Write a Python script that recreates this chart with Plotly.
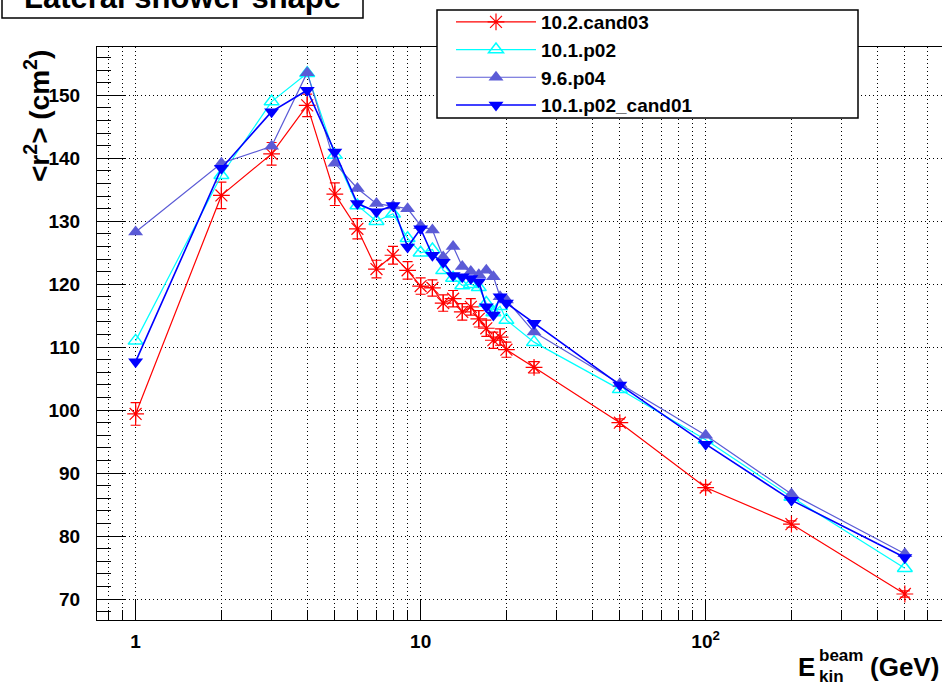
import math
import plotly.graph_objects as go

# ---------------- data ----------------
energy = [1, 2, 3, 4, 5, 6, 7, 8, 9, 10, 11, 12, 13, 14, 15, 16, 17, 18, 19, 20, 25, 50, 100, 200, 500]

r2_cand03 = [99.4, 134.1, 140.7, 148.4, 134.3, 128.8, 122.4, 124.6, 122.2, 119.7, 119.4, 117.0, 117.7,
             115.6, 116.4, 114.5, 113.0, 111.1, 111.6, 109.6, 106.8, 98.0, 87.7, 81.9, 70.8]
r2_cand03_err = [1.8, 2.1, 1.8, 1.8, 1.8, 1.6, 1.4, 1.4, 1.4, 1.3, 1.3, 1.3, 1.3,
                 1.3, 1.3, 1.3, 1.3, 1.3, 1.3, 1.2, 0.9, 0.6, 0.5, 0.5, 0.5]
r2_p02 = [111.0, 137.3, 149.0, 153.5, 140.5, 132.5, 130.0, 131.2, 127.3, 125.0, 125.5, 122.2, 121.0,
          119.8, 120.0, 119.5, 117.0, 115.5, 116.5, 114.3, 110.8, 103.3, 95.3, 86.2, 74.9]
r2_p04 = [128.3, 139.2, 141.9, 153.6, 139.2, 135.2, 132.8, 132.4, 132.0, 129.3, 128.6, 124.3, 126.0,
          122.8, 122.0, 121.5, 122.2, 121.2, 118.0, 117.5, 112.4, 104.2, 96.0, 86.7, 77.2]
r2_cand01 = [107.7, 138.4, 147.4, 150.8, 141.0, 132.8, 131.5, 132.5, 125.9, 128.8, 124.6, 123.5, 121.4,
             121.2, 120.9, 120.4, 116.4, 115.1, 118.0, 117.0, 113.8, 104.0, 94.6, 85.7, 76.6]

series_names = ["10.2.cand03", "10.1.p02", "9.6.p04", "10.1.p02_cand01"]

x_major = [1, 10, 100]
x_major_text = ["1", "10", "10<sup>2</sup>"]
x_minor = [0.8, 0.9, 2, 3, 4, 5, 6, 7, 8, 9, 20, 30, 40, 50, 60, 70, 80, 90, 200, 300, 400, 500, 600]
y_major = [70, 80, 90, 100, 110, 120, 130, 140, 150]
y_major_text = ["70", "80", "90", "100", "110", "120", "130", "140", "150"]

# ---------------- layout geometry ----------------
W, H = 942, 686
L, R, T, B = 97, 0, 47, 66


def px(x):
    return (x - L) / (W - L - R)


def py(y):
    return (H - B - y) / (H - B - T)


FONT = "Liberation Sans, Arial, Helvetica, sans-serif"
GRID_DASH = "1px,3px"

fig = go.Figure()

fig.add_trace(go.Scatter(
    x=energy, y=r2_cand03, name=series_names[0], mode="lines+markers",
    line=dict(color="#FF0000", width=1.2),
    marker=dict(symbol="asterisk-open", size=14, color="#FF0000",
                line=dict(color="#FF0000", width=1.2)),
    error_y=dict(type="data", array=r2_cand03_err, color="#FF0000", thickness=1.2, width=5),
))
fig.add_trace(go.Scatter(
    x=energy, y=r2_p02, name=series_names[1], mode="lines+markers",
    line=dict(color="#00FFFF", width=1.2),
    marker=dict(symbol="triangle-up-open", size=13, color="#00FFFF",
                line=dict(color="#00FFFF", width=1.5)),
))
fig.add_trace(go.Scatter(
    x=energy, y=r2_p04, name=series_names[2], mode="lines+markers",
    line=dict(color="#5B5BD6", width=1.2),
    marker=dict(symbol="triangle-up", size=13, color="#5B5BD6",
                line=dict(width=0)),
))
fig.add_trace(go.Scatter(
    x=energy, y=r2_cand01, name=series_names[3], mode="lines+markers",
    line=dict(color="#0000FF", width=1.6),
    marker=dict(symbol="triangle-down", size=13, color="#0000FF",
                line=dict(width=0)),
))

fig.update_layout(
    width=W, height=H, autosize=False,
    margin=dict(l=L, r=R, t=T, b=B, pad=0),
    paper_bgcolor="white", plot_bgcolor="white",
    font=dict(family=FONT, color="black"),
    showlegend=True,
    legend=dict(
        x=px(451), y=py(3), xanchor="left", yanchor="top",
        bgcolor="rgba(0,0,0,0)", borderwidth=0,
        font=dict(family=FONT, size=19, color="black", weight="bold"),
        itemwidth=80,
    ),
    xaxis=dict(
        type="log",
        range=[math.log10(0.732), math.log10(675)],
        showline=True, linecolor="black", linewidth=1.2, mirror=True,
        ticks="inside", ticklen=20, tickwidth=1.2, tickcolor="black",
        tickmode="array", tickvals=x_major, ticktext=x_major_text,
        tickfont=dict(family=FONT, size=19, color="black", weight="bold"),
        ticklabelstandoff=4,
        showgrid=True, gridcolor="black", gridwidth=1, griddash=GRID_DASH,
        zeroline=False,
        minor=dict(tickmode="array", tickvals=x_minor, ticks="inside", ticklen=10,
                   tickwidth=1, tickcolor="black", showgrid=True, gridcolor="black",
                   gridwidth=1, griddash=GRID_DASH),
    ),
    yaxis=dict(
        range=[66.67, 157.67],
        showline=True, linecolor="black", linewidth=1.2, mirror=False,
        ticks="inside", ticklen=28, tickwidth=1.2, tickcolor="black",
        tickmode="array", tickvals=y_major, ticktext=y_major_text,
        tickfont=dict(family=FONT, size=19, color="black", weight="bold"),
        ticklabelstandoff=12,
        showgrid=True, gridcolor="black", gridwidth=1, griddash=GRID_DASH,
        zeroline=False,
        minor=dict(dtick=2, ticks="inside", ticklen=14, tickwidth=1, tickcolor="black",
                   showgrid=False),
    ),
    shapes=[
        dict(type="rect", xref="paper", yref="paper",
             x0=px(437), x1=px(858), y0=py(118), y1=py(10),
             line=dict(color="black", width=1.5), fillcolor="white", layer="above"),
        dict(type="rect", xref="paper", yref="paper",
             x0=px(2), x1=px(363), y0=py(18), y1=py(-30),
             line=dict(color="black", width=1.5), fillcolor="rgba(0,0,0,0)", layer="above"),
    ],
    annotations=[
        dict(text="Lateral shower shape", xref="paper", yref="paper",
             x=px(22), y=py(17), xanchor="left", yanchor="bottom", showarrow=False,
             font=dict(family=FONT, size=31, color="black", weight="bold")),
        dict(text="&lt;r<sup>2</sup>&gt; (cm<sup>2</sup>)", xref="paper", yref="paper",
             x=px(37), y=py(48), xanchor="center", yanchor="top", textangle=-90,
             showarrow=False,
             font=dict(family=FONT, size=28, color="black", weight="bold")),
        dict(text="E", xref="paper", yref="paper",
             x=px(806), y=py(667), xanchor="center", yanchor="middle", showarrow=False,
             font=dict(family=FONT, size=26, color="black", weight="bold")),
        dict(text="beam", xref="paper", yref="paper",
             x=px(817), y=py(655), xanchor="left", yanchor="middle", showarrow=False,
             font=dict(family=FONT, size=17, color="black", weight="bold")),
        dict(text="kin", xref="paper", yref="paper",
             x=px(817), y=py(676), xanchor="left", yanchor="middle", showarrow=False,
             font=dict(family=FONT, size=17, color="black", weight="bold")),
        dict(text="(GeV)", xref="paper", yref="paper",
             x=px(868), y=py(667), xanchor="left", yanchor="middle", showarrow=False,
             font=dict(family=FONT, size=26, color="black", weight="bold")),
    ],
)

fig.write_html("out.html")
